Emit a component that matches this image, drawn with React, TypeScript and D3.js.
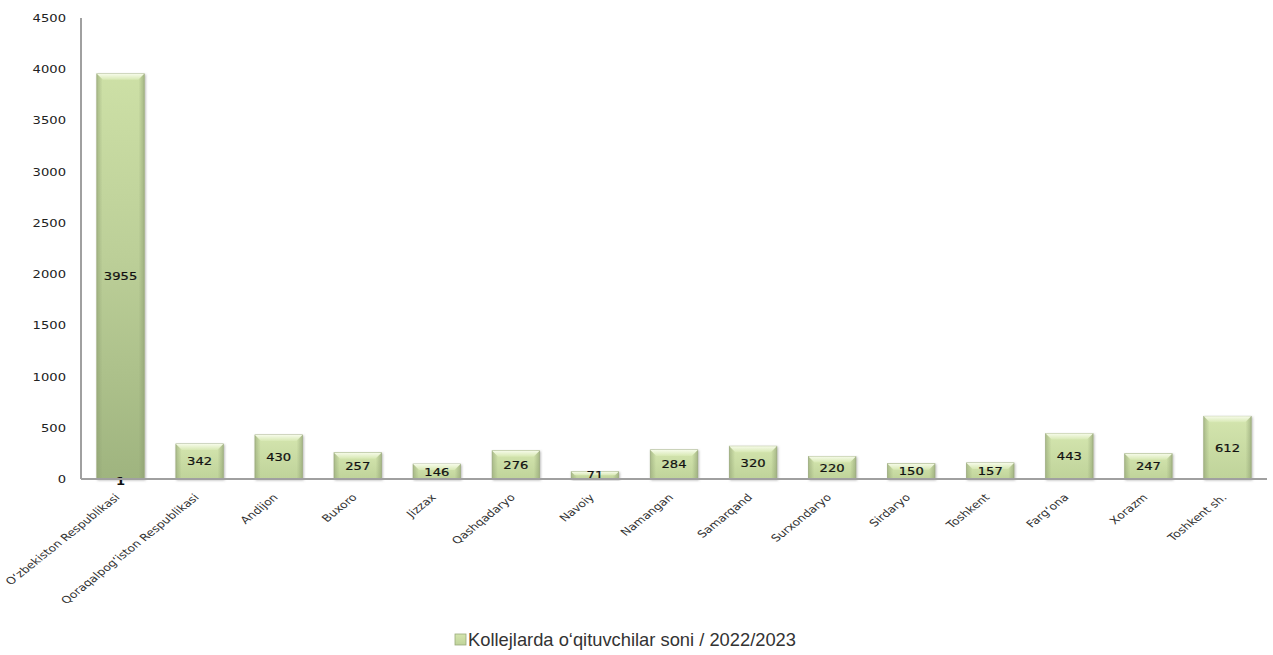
import React from "react";
import * as d3 from "d3";

const categories = [
  "O‘zbekiston Respublikasi",
  "Qoraqalpog‘iston  Respublikasi",
  "Andijon",
  "Buxoro",
  "Jizzax",
  "Qashqadaryo",
  "Navoiy",
  "Namangan",
  "Samarqand",
  "Surxondaryo",
  "Sirdaryo",
  "Toshkent",
  "Farg‘ona",
  "Xorazm",
  "Toshkent sh.",
];
const values = [3955, 342, 430, 257, 146, 276, 71, 284, 320, 220, 150, 157, 443, 247, 612];
const yTicks = [0, 500, 1000, 1500, 2000, 2500, 3000, 3500, 4000, 4500];
const legendLabel = "Kollejlarda o‘qituvchilar soni /  2022/2023";

const W = 1273;
const H = 655;
const left = 81;
const right = 1267;
const top = 18;
const bottom = 479;
const SX = 1.25;

export default function App() {
  const x = d3.scaleBand<string>().domain(categories).range([left, right]).paddingInner(0.4).paddingOuter(0.2);
  const y = d3.scaleLinear().domain([0, 4500]).range([bottom, top]);
  const bw = x.bandwidth();
  const font = "Verdana, 'DejaVu Sans', sans-serif";

  return (
    <svg width={W} height={H} style={{ position: "absolute", left: 0, top: 0, background: "#fff" }}>
      <defs>
        <linearGradient id="gLight" x1="0" y1="0" x2="0" y2="1">
          <stop offset="0" stopColor="#d4e5ae" />
          <stop offset="1" stopColor="#bfd39a" />
        </linearGradient>
        <linearGradient id="gDark" x1="0" y1="0" x2="0" y2="1">
          <stop offset="0" stopColor="#cde0a6" />
          <stop offset="0.45" stopColor="#bccf98" />
          <stop offset="1" stopColor="#9fb47f" />
        </linearGradient>
        <linearGradient id="gSide" x1="0" y1="0" x2="1" y2="0">
          <stop offset="0" stopColor="#8c9d70" stopOpacity="0.55" />
          <stop offset="0.12" stopColor="#8c9d70" stopOpacity="0" />
          <stop offset="0.88" stopColor="#8c9d70" stopOpacity="0" />
          <stop offset="1" stopColor="#8c9d70" stopOpacity="0.6" />
        </linearGradient>
        <linearGradient id="gTop" x1="0" y1="0" x2="0" y2="1">
          <stop offset="0" stopColor="#f6fbe9" />
          <stop offset="1" stopColor="#d7e8b3" />
        </linearGradient>
        <filter id="shadow" x="-20%" y="-20%" width="140%" height="140%">
          <feDropShadow dx="1" dy="1" stdDeviation="1" floodColor="#777" floodOpacity="0.5" />
        </filter>
      </defs>

      {yTicks.map((t) => (
        <text
          key={t}
          transform={`translate(66,${y(t) + 4}) scale(${SX},1)`}
          textAnchor="end"
          fontFamily={font}
          fontSize={10.5}
          fill="#222"
        >
          {t}
        </text>
      ))}

      {values.map((v, i) => {
        const c = categories[i];
        const bx = x(c)!;
        const by = y(v);
        const h = bottom - by;
        const bev = Math.min(6, h / 2);
        return (
          <g key={c} filter="url(#shadow)">
            <rect x={bx} y={by} width={bw} height={h} fill={i === 0 ? "url(#gDark)" : "url(#gLight)"} stroke="#a7b58a" strokeWidth={0.8} />
            <rect x={bx} y={by} width={bw} height={h} fill="url(#gSide)" />
            <polygon
              points={`${bx},${by} ${bx + bw},${by} ${bx + bw - bev},${by + bev} ${bx + bev},${by + bev}`}
              fill="url(#gTop)"
            />
          </g>
        );
      })}

      {values.map((v, i) => {
        const c = categories[i];
        const cx = x(c)! + bw / 2;
        const cy = (y(v) + bottom) / 2;
        return (
          <text
            key={c}
            transform={`translate(${cx},${cy + 4}) scale(${SX},1)`}
            textAnchor="middle"
            fontFamily={font}
            fontSize={10.5}
            fill="#111"
            stroke="#111"
            strokeWidth={0.2}
          >
            {v}
          </text>
        );
      })}
      <text
        transform={`translate(${x(categories[0])! + bw / 2},${bottom + 6}) scale(${SX},1)`}
        textAnchor="middle"
        fontFamily={font}
        fontSize={10.5}
        fontWeight="bold"
        fill="#111"
      >
        1
      </text>

      <line x1={left} y1={top} x2={left} y2={bottom} stroke="#a0a0a0" strokeWidth={2} />
      <line x1={left} y1={bottom} x2={right} y2={bottom} stroke="#a0a0a0" strokeWidth={2} />

      {categories.map((c) => {
        const cx = x(c)! + bw / 2;
        return (
          <text
            key={c}
            transform={`translate(${cx},${bottom + 19}) scale(${SX},1) rotate(-45)`}
            textAnchor="end"
            fontFamily={font}
            fontSize={10}
            fill="#333"
          >
            {c}
          </text>
        );
      })}

      <rect x={455} y={634} width={11} height={11} fill="url(#gLight)" stroke="#9aaa7a" strokeWidth={0.8} />
      <text x={468} y={646} fontFamily="'Liberation Sans', 'Open Sans', sans-serif" fontSize={19} fill="#333" textLength={328} lengthAdjust="spacingAndGlyphs">
        {legendLabel}
      </text>
    </svg>
  );
}
